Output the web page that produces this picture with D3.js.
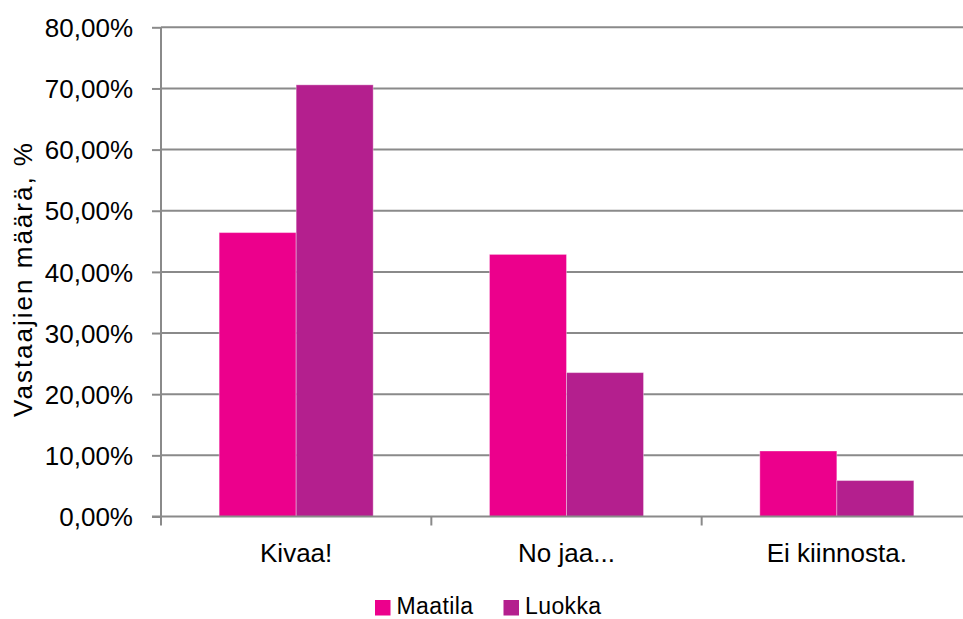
<!DOCTYPE html>
<html>
<head>
<meta charset="utf-8">
<script src="https://cdn.jsdelivr.net/npm/d3@7"></script>
<style>
  html, body { margin: 0; padding: 0; background: #fff; }
  svg { display: block; }
  text { font-family: "Liberation Sans", Arial, sans-serif; fill: #000; }
</style>
</head>
<body>
<svg id="chart" width="963" height="619"></svg>
<script>
const categories = ["Kivaa!", "No jaa...", "Ei kiinnosta."];
const seriesNames = ["Maatila", "Luokka"];
const maatila = [0.4643, 0.4286, 0.1071];
const luokka = [0.7059, 0.2353, 0.0588];
const yTicks = [0, 0.1, 0.2, 0.3, 0.4, 0.5, 0.6, 0.7, 0.8];
const colors = ["#EC008C", "#B41F8E"];
const yTitle = "Vastaajien määrä, %";

const svg = d3.select("#chart");
const plotLeft = 161, plotRight = 972, plotTop = 27.3, plotBottom = 516.5;

const x0 = d3.scaleBand().domain(categories).range([plotLeft, plotRight]).padding(0);
const x1 = d3.scaleBand().domain(seriesNames).range([0, x0.bandwidth()]).paddingInner(0).paddingOuter(0.755);
const y = d3.scaleLinear().domain([0, 0.8]).range([plotBottom, plotTop]);
const color = d3.scaleOrdinal().domain(seriesNames).range(colors);

const fmt = v => d3.format(".2f")(v * 100).replace(".", ",") + "%";

// gridlines + y axis
const yAxis = d3.axisLeft(y).tickValues(yTicks).tickSize(9).tickFormat(fmt);
const gy = svg.append("g").attr("transform", `translate(${plotLeft},0)`).call(yAxis);
gy.select(".domain").remove();
gy.selectAll(".tick line").attr("stroke", "#8a8a8a").attr("stroke-width", 2);
gy.selectAll(".tick text").attr("x", -28).attr("dy", "0.35em")
  .style("font-size", "26px").style("font-family", "'Liberation Sans', Arial, sans-serif").attr("fill", "#000");

const grid = svg.append("g");
grid.selectAll("line").data(yTicks.filter(t => t > 0)).join("line")
  .attr("x1", plotLeft).attr("x2", plotRight)
  .attr("y1", d => y(d)).attr("y2", d => y(d))
  .attr("stroke", "#8a8a8a").attr("stroke-width", 2);

// bars
const rows = categories.map((c, i) => ({ cat: c, vals: [
  { s: seriesNames[0], v: maatila[i] }, { s: seriesNames[1], v: luokka[i] } ] }));
const gBars = svg.append("g");
gBars.selectAll("g").data(rows).join("g")
  .attr("transform", d => `translate(${x0(d.cat)},0)`)
  .selectAll("rect").data(d => d.vals).join("rect")
  .attr("x", d => x1(d.s)).attr("width", x1.bandwidth())
  .attr("y", d => y(d.v)).attr("height", d => y(0) - y(d.v))
  .attr("fill", d => color(d.s))
  .attr("stroke", "rgba(255,255,255,0.35)").attr("stroke-width", 1);

// y axis line
svg.append("line").attr("x1", plotLeft).attr("x2", plotLeft)
  .attr("y1", plotTop).attr("y2", plotBottom)
  .attr("stroke", "#8a8a8a").attr("stroke-width", 2);

// x axis
const tickPositions = categories.map(c => x0(c)).concat([plotRight]);
const gx = svg.append("g");
gx.append("line").attr("x1", plotLeft - 9).attr("x2", plotRight)
  .attr("y1", y(0)).attr("y2", y(0)).attr("stroke", "#8a8a8a").attr("stroke-width", 2);
gx.selectAll("line.t").data(tickPositions).join("line").attr("class", "t")
  .attr("x1", d => d).attr("x2", d => d).attr("y1", y(0)).attr("y2", y(0) + 9)
  .attr("stroke", "#8a8a8a").attr("stroke-width", 2);
gx.selectAll("text").data(categories).join("text")
  .attr("x", d => x0(d) + x0.bandwidth() / 2).attr("y", 561.5)
  .attr("text-anchor", "middle").style("font-size", "26px").text(d => d);

// y title
svg.append("text")
  .attr("transform", `translate(32,279) rotate(-90)`)
  .attr("text-anchor", "middle").style("font-size", "26px")
  .style("letter-spacing", "2px").text(yTitle);

// legend
const legendItems = [
  { s: seriesNames[0], x: 375 },
  { s: seriesNames[1], x: 503.5 }
];
const lg = svg.append("g").selectAll("g").data(legendItems).join("g")
  .attr("transform", d => `translate(${d.x},600)`);
lg.append("rect").attr("width", 15.5).attr("height", 15.5).attr("fill", d => color(d.s));
lg.append("text").attr("x", 21.5).attr("y", 14).style("font-size", "23px")
  .style("letter-spacing", "0.4px").text(d => d.s);
</script>
</body>
</html>
